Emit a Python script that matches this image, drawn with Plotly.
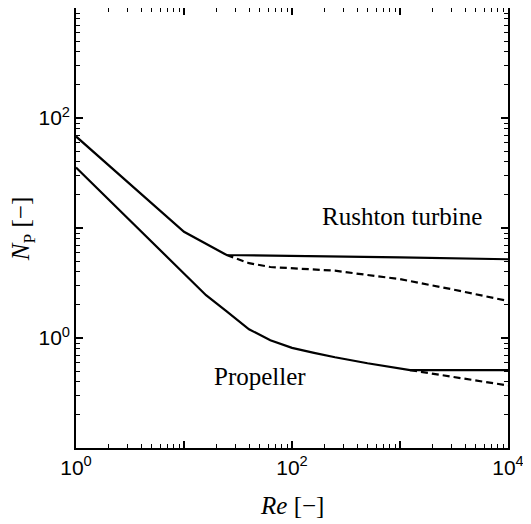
import plotly.graph_objects as go

# Rushton turbine (baffled, solid)
re_rt = [1, 10, 24.8, 100, 1000, 10000]
np_rt = [68, 9.25, 5.68, 5.6, 5.4, 5.2]
# Rushton turbine (unbaffled, dashed)
re_rt_unb = [24.8, 40, 63, 100, 250, 630, 1000, 3160, 10000]
np_rt_unb = [5.68, 4.79, 4.42, 4.29, 4.09, 3.63, 3.43, 2.75, 2.17]
# Propeller (baffled, solid)
re_pr = [1, 10, 16, 25, 40, 63, 100, 160, 250, 500, 1240, 10000]
np_pr = [35.5, 3.80, 2.45, 1.74, 1.20, 0.955, 0.813, 0.733, 0.668, 0.589, 0.51, 0.51]
# Propeller (unbaffled, dashed)
re_pr_unb = [1240, 3828, 10000]
np_pr_unb = [0.51, 0.426, 0.37]

x_major = [1, 10, 100, 1000, 10000]
x_labels = ["10<sup>0</sup>", " ", "10<sup>2</sup>", " ", "10<sup>4</sup>"]
y_major = [0.1, 1, 10, 100, 1000]
y_labels = [" ", "10<sup>0</sup>", " ", "10<sup>2</sup>", " "]

fig = go.Figure()
line_solid = dict(color="black", width=2.2)
line_dash = dict(color="black", width=2.2, dash="7px,4px")
fig.add_trace(go.Scatter(x=re_rt, y=np_rt, mode="lines", line=line_solid, showlegend=False, hoverinfo="skip"))
fig.add_trace(go.Scatter(x=re_rt_unb, y=np_rt_unb, mode="lines", line=line_dash, showlegend=False, hoverinfo="skip"))
fig.add_trace(go.Scatter(x=re_pr, y=np_pr, mode="lines", line=line_solid, showlegend=False, hoverinfo="skip"))
fig.add_trace(go.Scatter(x=re_pr_unb, y=np_pr_unb, mode="lines", line=line_dash, showlegend=False, hoverinfo="skip"))

serif = "Liberation Serif, Times New Roman, serif"
sans = "Liberation Sans, Arial, sans-serif"

axis_common = dict(
    type="log", showgrid=False, zeroline=False, showline=True, linecolor="black",
    linewidth=1.6, mirror="allticks", ticks="inside", ticklen=7, tickwidth=1.5,
    tickcolor="black", tickmode="array", automargin=False,
    tickfont=dict(family=sans, size=21, color="black"),
    minor=dict(ticks="inside", ticklen=4, tickwidth=1.2, tickcolor="black", dtick="D1", showgrid=False),
)

fig.update_layout(
    width=523, height=516,
    margin=dict(l=68, r=23, t=0, b=76),
    paper_bgcolor="white", plot_bgcolor="white",
    xaxis=dict(**axis_common, range=[0, 4], tickvals=x_major, ticktext=x_labels),
    yaxis=dict(**axis_common, range=[-1, 3], tickvals=y_major, ticktext=y_labels),
    annotations=[
        dict(x=3.023, y=1.109, xref="x", yref="y", text="Rushton turbine", showarrow=False,
             font=dict(family=serif, size=25, color="black"), xanchor="center", yanchor="middle"),
        dict(x=1.704, y=-0.354, xref="x", yref="y", text="Propeller", showarrow=False,
             font=dict(family=serif, size=25, color="black"), xanchor="center", yanchor="middle"),
        dict(x=0.5, y=-0.13, xref="paper", yref="paper", text="<i>Re</i> [−]", showarrow=False,
             font=dict(family=serif, size=25, color="black"), xanchor="center", yanchor="middle"),
        dict(x=-0.122, y=0.498, xref="paper", yref="paper", text="<i>N</i><sub>P</sub> [−]",
             showarrow=False, textangle=-90,
             font=dict(family=serif, size=25, color="black"), xanchor="center", yanchor="middle"),
    ],
)

fig.write_html("out.html")
